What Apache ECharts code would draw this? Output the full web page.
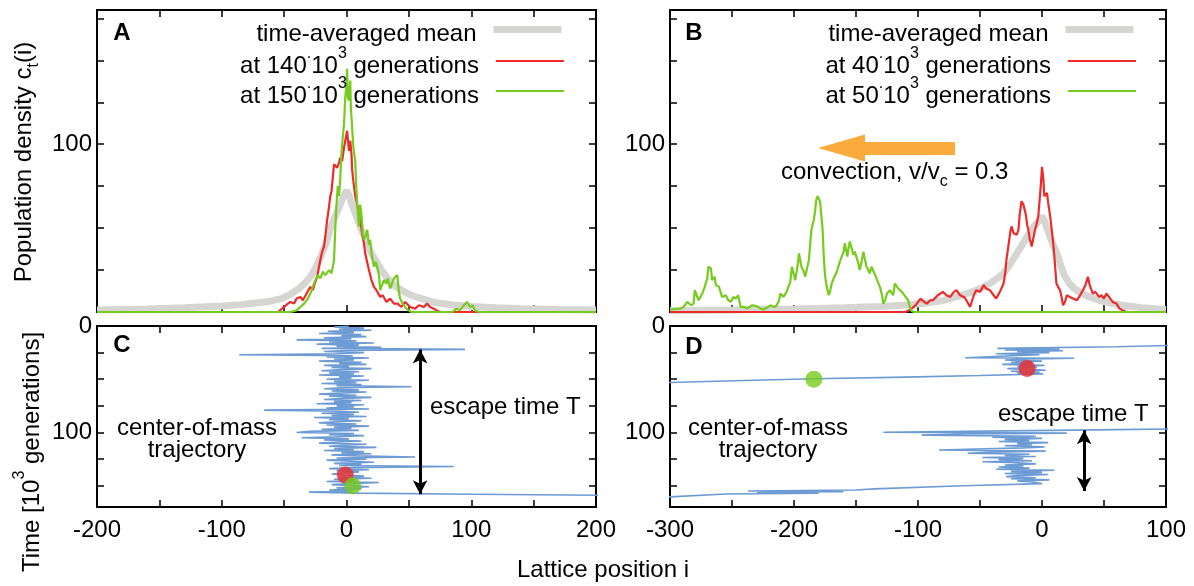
<!DOCTYPE html>
<html><head><meta charset="utf-8">
<script src="https://cdn.jsdelivr.net/npm/echarts@6/dist/echarts.min.js"></script>
<style>html,body{margin:0;padding:0;background:#fff}#c{width:1194px;height:586px}</style>
</head><body><div id="c"></div>
<script>
// ---------- data ----------
const xTickLabelsA = [-200, -100, 0, 100, 200];
const xTickLabelsB = [-300, -200, -100, 0, 100];
const yTickLabelsDensity = [100];
const yTickLabelsTime = [0, 100];

const meanA = [[-200,1.2],[-160,1.8],[-130,2.5],[-100,3.6],[-85,4.4],[-75,5.2],[-62,6.3],[-52,8],[-45,10.5],[-38,14],[-33,17.5],[-28,22],[-24,27.5],[-20,34],[-16,42],[-12,52],[-8,59],[-4,66],[-1.5,70.5],[0,72],[1.5,70.5],[4,65],[8,57],[12,49],[16,42],[20,35],[24,30],[28,25],[33,20],[38,16],[45,12.5],[52,10],[60,8],[72,5.5],[85,4.2],[100,3.3],[120,2.5],[140,2],[170,1.5],[200,1.2]];
const redA = [[-200,0],[-55,0],[-50,3],[-47,5],[-45,6],[-42,5],[-40,8],[-37,9],[-35,7],[-32,11],[-29,15],[-27,13],[-25,18],[-23.5,21],[-22,27],[-21,31],[-19.5,36],[-18,39],[-17,45],[-15.5,55],[-14.5,60],[-13,69],[-12,72],[-11,80],[-10,88],[-9,87],[-7.5,86],[-6,89],[-5,92],[-3.5,90],[-2,98],[-1,102],[0.5,108],[1.5,100],[2,96],[3,102],[4,94],[4.5,85],[5.5,78],[7,69],[8.5,64],[10,59],[11,55],[12.5,47],[14,41],[15,35],[16.5,30],[18,25],[20,19],[22,15],[24,13],[27,9],[29,10],[32,6],[35,8],[38,5],[41,5],[44,3],[47,6],[51,3],[55,2],[58,4],[62,3],[64.6,5],[67,3],[70,2],[73,0.5],[76,0],[200,0]];
const greenA = [[-200,0],[-45,0],[-40,1],[-37,3],[-34,5],[-31,8],[-29,11],[-27,15],[-25,19],[-23,22],[-21,20],[-19,24],[-17,22],[-15.5,21],[-14,25],[-12,23],[-10,31],[-9,50],[-8,64],[-7,75],[-6,69],[-5,80],[-4,95],[-3,104],[-2,112],[-1,128],[0,135],[0.5,145],[1,128],[2,126],[2.5,133],[3,138],[3.5,122],[4.5,110],[5.5,98],[7,90],[8,72],[8.5,66],[9.5,55],[10,51],[11,64],[12,58],[13,47],[14,43],[15.5,46],[16.6,49],[18,40],[19,43],[20,35],[22,27],[23.5,30],[24.6,31],[26,22],[27,13],[28.5,16],[30,19],[32,17],[33,20],[35,14],[36.5,17],[38,20],[40.6,22],[42,12],[43,8],[45,5],[48,2],[52,0],[85,0],[88,2],[91,1],[94,4],[96.7,6],[99,3],[101,4],[103,1],[106,0],[200,0]];

const meanB = [[-300,0.8],[-250,1.2],[-200,1.8],[-160,2.5],[-130,3.3],[-110,4.2],[-95,5.2],[-80,6.8],[-69,9],[-58,11.5],[-48,14.5],[-42,17],[-36,20],[-31,23],[-26,28],[-21,34],[-16,40],[-11,46],[-7,50.5],[-3,54],[0,57],[2,54],[4,50],[7,44],[9.5,39],[12,35],[15,28],[18,22],[22,17],[26,14],[30,12],[38,9],[46,7],[55,5.3],[65,4],[80,2.5],[100,1.5]];
const redB = [[-300,0],[-110,0],[-106,1.5],[-102,4],[-98,8],[-95,6],[-93,5],[-90,7],[-88,7],[-84,10],[-80,12],[-77,10],[-74,9],[-71,12],[-69,13],[-66,10],[-63,9],[-61,7],[-58,3],[-55,10],[-53,13],[-50,12],[-47,16],[-45,14],[-42,13],[-39,10],[-37,8],[-34,12],[-31,17],[-29.5,24],[-28.7,31],[-27,40],[-25.5,48],[-24.6,51],[-23,47],[-22,47],[-20.5,46],[-19,49],[-18,58],[-16.5,66],[-15,64],[-14,65],[-13,58],[-12,52],[-11,49],[-10,44],[-8.3,39],[-7,44],[-5.6,49],[-4.5,52],[-3,57],[-2,66],[-1,75],[0,86.5],[1,80],[1.9,69],[3,68],[4,71],[5,65],[6.6,57],[8,48],[9.3,39],[10.5,28],[11.6,17],[13,15],[14.6,13],[16,8],[17,4],[18.5,6],[20,10],[22.4,9],[25,8],[28,7],[30,9],[33,13],[35,16],[37,21],[38.5,16],[41,11],[43,12],[46,9],[48,10],[50,8],[52,11],[54,9],[57,6],[60,5],[62.5,2],[65,1],[68,0],[100,0]];
const greenB = [[-300,1.5],[-292,2],[-289,3],[-286,6],[-283,4],[-281,5],[-280,13],[-277,7],[-274,11],[-272,15],[-270,20],[-269,27],[-267,26],[-266,19],[-264,21],[-263,16],[-260.5,15],[-258,9],[-255,10],[-253,7],[-251,6],[-249,9],[-247,8],[-245,10],[-243,3],[-240,3],[-238,2],[-234,4],[-230,3.5],[-227,2],[-224.5,1.5],[-221,3],[-219,4],[-216,3],[-214,4],[-212,7],[-211,11],[-208.5,9],[-206,12],[-204.5,13],[-203,18],[-201.7,27],[-199,19],[-197,28],[-196,35],[-194,27],[-192,24],[-191,21],[-189.5,26],[-188,31],[-187,40],[-186,49],[-185,50],[-184,55],[-183,60],[-182,67],[-181,69],[-180,68],[-179,66],[-178,65],[-177,50],[-176,33],[-175,22],[-173.6,15],[-172,10],[-171,12],[-169.6,17],[-168,20],[-167,21],[-165.5,24],[-164,25],[-163,30],[-161.6,31],[-160,36],[-159,41],[-158,37],[-157,33],[-156,38],[-155,42],[-153.5,38],[-152,34],[-151,36],[-150,35],[-148.5,30],[-147,25],[-145.5,30],[-144,36],[-143,32],[-141.5,27],[-140,25],[-139,23],[-137.5,27],[-136,26],[-134.5,22],[-133,19],[-132,18],[-130.7,15],[-129,10],[-128,5],[-126.5,7],[-125,11],[-123.5,12],[-122.6,13],[-121,12],[-120,10],[-118.6,17],[-117,16],[-116,14],[-114.6,13],[-113,12],[-112,11],[-110,9],[-108,7],[-107,4],[-106,2],[-105,0.5],[-103,0],[100,0]];

// center-of-mass trajectories: [position i, time in 10^3 generations]
const trajC = [[2,0],[-10,1],[14,2],[-6,3],[20,4],[-15,5],[6,6],[-22,7],[12,8],[-4,9],[16,10],[-18,11],[4,12],[-40,13],[8,14],[-14,15],[22,16],[-24,17],[10,18],[-8,19],[28,20],[-20,21],[95,22],[0,23],[-18,24],[14,25],[-8,26],[-86,27],[5,28],[-16,29],[18,30],[-10,31],[6,32],[-22,33],[12,34],[-6,35],[16,36],[-18,37],[2,38],[-12,39],[20,40],[-4,41],[-20,42],[10,43],[-14,44],[6,45],[-22,46],[14,47],[-6,48],[4,49],[-16,50],[18,51],[-10,52],[8,53],[-20,54],[12,55],[-8,56],[52,57],[-4,58],[-18,59],[10,60],[-12,61],[16,62],[-6,63],[-22,64],[8,65],[-14,66],[20,67],[-2,68],[-18,69],[12,70],[-10,71],[4,72],[-24,73],[14,74],[-8,75],[6,76],[-16,77],[18,78],[-66,79],[-4,80],[10,81],[-20,82],[6,83],[-12,84],[16,85],[-26,86],[2,87],[-14,88],[12,89],[-8,90],[-22,91],[8,92],[-16,93],[18,94],[-10,95],[4,96],[-20,97],[10,98],[-30,99],[-40,100],[6,101],[-14,102],[14,103],[-8,104],[-36,105],[2,106],[-18,107],[12,108],[-6,109],[-22,110],[16,111],[-2,112],[-14,113],[24,114],[-10,115],[6,116],[-18,117],[14,118],[-4,119],[20,120],[-12,121],[8,122],[55,123],[-8,124],[16,125],[-16,126],[4,127],[22,128],[-10,129],[12,130],[-6,131],[86,132],[6,133],[-14,134],[18,135],[-8,136],[10,137],[-2,138],[-12,139],[-1,140],[14,141],[-6,142],[20,143],[-10,144],[8,145],[-16,146],[26,147],[4,148],[-12,149],[5,150],[18,151],[-8,152],[12,153],[-14,154],[6,155],[-30,156],[10,157],[100,158],[210,159]];
const trajD1 = [[150,17],[60,19.5],[-36,21],[14,21.8],[-30,22.5],[17,23.3],[-20,24],[6,25],[-37,26],[-2,27],[-24,28],[-62,29.8],[26,30.3],[-10,31],[-30,32],[0,33],[-25,34],[-8,35],[-32,36],[2,37],[-20,38],[-4,39],[-28,40],[-12,40.5],[3,41.5],[-25,42.5],[-2,43.5],[-20,44.2],[1,45],[-50,46.5],[-110,48],[-184,49.6],[-240,51.2],[-300,53],[-330,53.8]];
const trajD2 = [[150,96],[60,97.3],[-10,98.3],[-128,99.8],[20,100.6],[-60,101.5],[-97,102.5],[-5,103.5],[-40,104.5],[0,105.5],[-30,106.5],[-10,107.5],[-35,108.5],[5,109.5],[-20,110.5],[-8,111.5],[-30,112.5],[2,113.5],[-15,114.5],[-83,116.5],[3,117.5],[-40,118.5],[-60,119.5],[-10,120.5],[-30,121.5],[-5,122.5],[-48,123.5],[-15,124.5],[-35,125.5],[-8,126.5],[-48,127.5],[-20,128.5],[-5,129.5],[-30,130.5],[-15,131.5],[-35,132.5],[-10,133.5],[-37,134.5],[10,135.5],[-25,136.5],[0,137.5],[-30,138.5],[5,139.5],[-20,140.5],[-29,141.5],[-5,142.5],[-25,143.5],[6,144.5],[-20,145.5],[-8,146.5],[0,148],[-64,150],[-135,153],[-150,154],[-237,155],[-160,155.6],[-230,156.2],[-180,157],[-255,157.8],[-300,160.5],[-330,161.5]];

const dotsC = {red: [-1, 140], green: [5, 150]};
const dotsD = {red: [-12, 40], green: [-184, 50]};
const escapeC = [[59, 22], [59, 158]];
const escapeD = [[34, 98], [34, 155]];

// ---------- styling ----------
const FONT = '"Liberation Sans", Arial, Helvetica, sans-serif';
const C_GRAY = '#d5d5d1', C_RED = '#ee2b2b', C_GREEN = '#76cb1c', C_BLUE = '#6d9bd3', C_ORANGE = '#fbab3b';

const chart = echarts.init(document.getElementById('c'), null, {renderer: 'canvas'});

const grids = [
  {left: 97, top: 10, width: 499, height: 302},
  {left: 670, top: 10, width: 496, height: 302},
  {left: 97, top: 326, width: 499, height: 181},
  {left: 670, top: 326, width: 496, height: 181}
];

function xAx(g, min, max, pos, labels) {
  return {type: 'value', gridIndex: g, min: min, max: max, interval: 50, position: pos,
    axisLine: {show: true, onZero: false, lineStyle: {color: '#000', width: 2}},
    axisTick: {show: true, inside: true, length: 7, lineStyle: {color: '#000', width: 1.5}},
    axisLabel: {show: !!labels, margin: 11, fontSize: 24, fontFamily: FONT, color: '#000',
      showMinLabel: true, showMaxLabel: true,
      formatter: v => (labels && labels.indexOf(v) >= 0) ? String(v) : ''},
    splitLine: {show: false}};
}
function yAx(g, min, max, pos, labels, inverse) {
  return {type: 'value', gridIndex: g, min: min, max: max, interval: 25, position: pos, inverse: !!inverse,
    axisLine: {show: true, onZero: false, lineStyle: {color: '#000', width: 2}},
    axisTick: {show: true, inside: true, length: 7, lineStyle: {color: '#000', width: 1.5}},
    axisLabel: {show: !!labels, margin: 5, fontSize: 24, fontFamily: FONT, color: '#000',
      showMinLabel: true, showMaxLabel: true,
      formatter: v => (labels && labels.indexOf(v) >= 0) ? String(v) : ''},
    splitLine: {show: false}};
}

const xAxes = [
  xAx(0, -200, 200, 'bottom', null), xAx(0, -200, 200, 'top', null),
  xAx(1, -300, 100, 'bottom', null), xAx(1, -300, 100, 'top', null),
  xAx(2, -200, 200, 'bottom', xTickLabelsA), xAx(2, -200, 200, 'top', null),
  xAx(3, -300, 100, 'bottom', xTickLabelsB), xAx(3, -300, 100, 'top', null)
];
const yAxes = [
  yAx(0, 0, 180, 'left', yTickLabelsDensity), yAx(0, 0, 180, 'right', null),
  yAx(1, 0, 180, 'left', yTickLabelsDensity), yAx(1, 0, 180, 'right', null),
  yAx(2, 0, 170, 'left', yTickLabelsTime, true), yAx(2, 0, 170, 'right', null, true),
  yAx(3, 0, 170, 'left', yTickLabelsTime, true), yAx(3, 0, 170, 'right', null, true)
];

function lineS(name, data, xi, yi, color, width) {
  return {name: name, type: 'line', xAxisIndex: xi, yAxisIndex: yi, data: data,
    symbol: 'none', showSymbol: false, smooth: false, silent: true, clip: true,
    lineStyle: {color: color, width: width}, itemStyle: {color: color}};
}
function dotS(name, pt, xi, yi, color) {
  return {name: name, type: 'scatter', xAxisIndex: xi, yAxisIndex: yi, data: [pt],
    symbol: 'circle', symbolSize: 17, silent: true, itemStyle: {color: color}, z: 5};
}
function escapeLine(pair) {
  return {silent: true, symbol: ['arrow', 'arrow'], symbolSize: [11, 14], label: {show: false},
    lineStyle: {color: '#000', width: 3, type: 'solid'},
    data: [[{coord: pair[0]}, {coord: pair[1]}]]};
}

const trajC_series = lineS('trajC', trajC, 4, 4, C_BLUE, 1.6);
trajC_series.markLine = escapeLine(escapeC);
const trajD1_series = lineS('trajD1', trajD1, 6, 6, C_BLUE, 1.6);
const trajD2_series = lineS('trajD2', trajD2, 6, 6, C_BLUE, 1.6);
trajD2_series.markLine = escapeLine(escapeD);

const series = [
  lineS('meanA', meanA, 0, 0, C_GRAY, 7),
  lineS('redA', redA, 0, 0, C_RED, 2.2),
  lineS('greenA', greenA, 0, 0, C_GREEN, 2.2),
  lineS('meanB', meanB, 2, 2, C_GRAY, 7),
  lineS('redB', redB, 2, 2, C_RED, 2.2),
  lineS('greenB', greenB, 2, 2, C_GREEN, 2.2),
  trajC_series,
  dotS('dotCr', dotsC.red, 4, 4, C_RED),
  dotS('dotCg', dotsC.green, 4, 4, C_GREEN),
  trajD1_series, trajD2_series,
  dotS('dotDr', dotsD.red, 6, 6, C_RED),
  dotS('dotDg', dotsD.green, 6, 6, C_GREEN)
];

const legendText = {
  meanA: '{n|time-averaged mean}{g| }',
  redA: '{n|at 140}{s|.}{n|10}{s|3}{n| generations}{g| }',
  greenA: '{n|at 150}{s|.}{n|10}{s|3}{n| generations}{g| }',
  meanB: '{n|time-averaged mean}{g| }',
  redB: '{n|at 40}{s|.}{n|10}{s|3}{n| generations}{g| }',
  greenB: '{n|at 50}{s|.}{n|10}{s|3}{n| generations}{g| }'
};
const supRich = {
  n: {fontSize: 24, fontFamily: FONT, color: '#000', lineHeight: 34, verticalAlign: 'bottom'},
  s: {fontSize: 16, fontFamily: FONT, color: '#000', lineHeight: 16, verticalAlign: 'bottom', padding: [0, 0, 16, 0]},
  g: {width: 12, fontSize: 10, lineHeight: 34, verticalAlign: 'bottom'}
};
function leg(name, right, top) {
  return {show: true, data: [name], right: right, top: top, orient: 'horizontal', align: 'right',
    padding: 0, itemWidth: 68, itemHeight: 34, selectedMode: false,
    lineStyle: {width: 'inherit'}, itemStyle: {opacity: 0},
    formatter: n => legendText[n], textStyle: {fontFamily: FONT, fontSize: 24, color: '#000', rich: supRich}};
}
const legends = [
  leg('meanA', 629, 16), leg('redA', 629, 46), leg('greenA', 629, 76),
  leg('meanB', 57, 16), leg('redB', 57, 46), leg('greenB', 57, 76)
];

const txtRich = {
  m: {fontSize: 24, fontFamily: FONT, color: '#000', lineHeight: 30, verticalAlign: 'top'},
  b: {fontSize: 16, fontFamily: FONT, color: '#000', lineHeight: 16, verticalAlign: 'bottom'},
  n: supRich.n,
  s: supRich.s
};
function txt(x, y, text, opts) {
  opts = opts || {};
  return {type: 'text', x: x, y: y, rotation: opts.rot || 0, z: 100, silent: true,
    style: {text: text, fill: '#000', font: (opts.bold ? 'bold ' : '') + (opts.size || 24) + 'px ' + FONT,
      fontSize: opts.size || 24, fontFamily: FONT, fontWeight: opts.bold ? 'bold' : 'normal',
      align: opts.align || 'left', verticalAlign: opts.va || 'middle',
      textAlign: opts.align || 'left', textVerticalAlign: opts.va || 'middle', rich: txtRich}};
}

const graphics = [
  txt(122, 33, 'A', {bold: true, align: 'center'}),
  txt(694, 33, 'B', {bold: true, align: 'center'}),
  txt(122, 345, 'C', {bold: true, align: 'center'}),
  txt(694, 347, 'D', {bold: true, align: 'center'}),
  txt(27, 162, '{m|Population density c}{b|t}{m|(i)}', {align: 'center', rot: Math.PI / 2}),
  txt(27, 452, '{n|Time [10}{s|3}{n| generations]}', {align: 'center', rot: Math.PI / 2}),
  txt(603, 570, 'Lattice position i', {align: 'center'}),
  txt(781, 175, '{m|convection, v/v}{b|c}{m| = 0.3}', {align: 'left'}),
  txt(430, 407, 'escape time T', {align: 'left'}),
  txt(998, 414, 'escape time T', {align: 'left'}),
  txt(197, 428, 'center-of-mass', {align: 'center'}),
  txt(197, 450, 'trajectory', {align: 'center'}),
  txt(768, 428, 'center-of-mass', {align: 'center'}),
  txt(768, 450, 'trajectory', {align: 'center'}),
  {type: 'polygon', z: 90, silent: true,
   shape: {points: [[818, 148], [865, 134.5], [865, 142], [955, 142], [955, 155], [865, 155], [865, 161.5]]},
   style: {fill: C_ORANGE}}
];

chart.setOption({
  animation: false,
  backgroundColor: '#fff',
  textStyle: {fontFamily: FONT},
  grid: grids,
  xAxis: xAxes,
  yAxis: yAxes,
  legend: legends,
  series: series,
  graphic: graphics
});
</script></body></html>
